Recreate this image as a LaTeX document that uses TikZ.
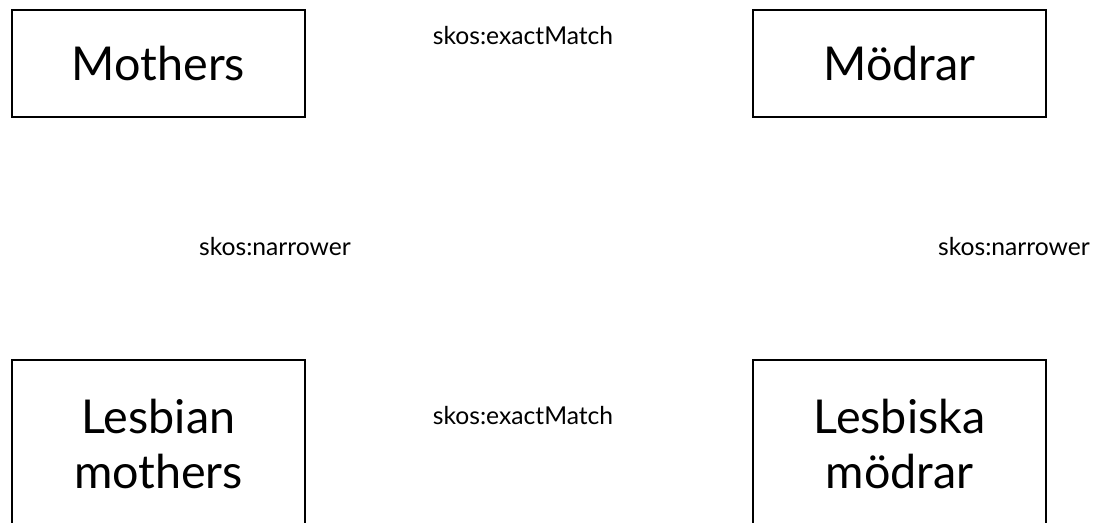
\documentclass[tikz,border=0pt]{standalone}
\usepackage{fontspec}
\setmainfont{Lato}
\usetikzlibrary{positioning}

\tikzset{
    concept/.style={draw, line width=2.2pt, minimum width=293*0.75pt, align=center,
        font=\fontsize{35}{41}\selectfont},
    relation/.style={font=\fontsize{18.5}{20}\selectfont}
}

\begin{document}
\begin{tikzpicture}[x=0.75pt,y=-0.75pt]
\useasboundingbox (0,0) rectangle (1095,523);
\clip (0,0) rectangle (1095,523);
\node[concept, minimum height=107*0.75pt] (mothers) at (158.5,63.5) {Mothers};
\node[concept, minimum height=107*0.75pt] (modrar) at (899.5,63.5) {Mödrar};
\node[concept, minimum height=168*0.75pt] (lesbmothers) at (158.5,444) {Lesbian\\mothers};
\node[concept, minimum height=168*0.75pt] (lesbmodrar) at (899.5,444) {Lesbiska\\mödrar};
\node[relation] (topmatch) at (523,36) {skos:exactMatch};
\node[relation] (botmatch) at (523,416) {skos:exactMatch};
\node[relation] (leftnarrow) at (275,247) {skos:narrower};
\node[relation] (rightnarrow) at (1014,247) {skos:narrower};
\end{tikzpicture}
\end{document}
